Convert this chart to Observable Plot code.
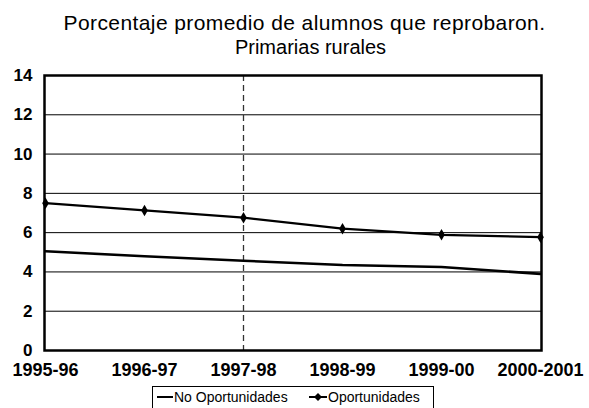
<!DOCTYPE html>
<html>
<head>
<meta charset="utf-8">
<script src="https://cdn.jsdelivr.net/npm/d3@7"></script>
<script src="https://cdn.jsdelivr.net/npm/@observablehq/plot@0.6"></script>
<style>
  html, body { margin: 0; padding: 0; background: #fff; }
  body { width: 589px; height: 408px; position: relative; overflow: hidden; font-family: "Liberation Sans", Arial, sans-serif; color: #000; }
  #t1 { position: absolute; top: 10px; left: 20px; width: 569px; text-align: center; font-size: 21px; line-height: 25px; letter-spacing: 0.4px; white-space: nowrap; }
  #t2 { position: absolute; top: 35px; left: 32px; width: 557px; text-align: center; font-size: 20px; line-height: 25px; white-space: nowrap; }
  #chart { position: absolute; top: 60px; left: 0; }
  #legend { position: absolute; left: 152px; top: 386px; width: 282px; height: 26px; border: 1px solid #000; box-sizing: border-box; font-size: 14px; }
  .item { position: absolute; top: 2px; display: flex; align-items: center; white-space: nowrap; }
  .item svg { display: block; }
</style>
</head>
<body>
<div id="t1">Porcentaje promedio de alumnos que reprobaron.</div>
<div id="t2">Primarias rurales</div>
<div id="chart"></div>
<div id="legend">
  <div class="item" style="left:3px"><svg width="18" height="16"><line x1="1" x2="17" y1="8" y2="8" stroke="#000" stroke-width="2"/></svg><span>No Oportunidades</span></div>
  <div class="item" style="left:155px"><svg width="20" height="16"><line x1="1" x2="19" y1="8" y2="8" stroke="#000" stroke-width="2"/><path d="M10,4 L14,8 L10,12 L6,8 Z" fill="#000"/></svg><span>Oportunidades</span></div>
</div>
<script>
const categories = ["1995-96", "1996-97", "1997-98", "1998-99", "1999-00", "2000-2001"];
const noOportunidades = [5.05, 4.8, 4.57, 4.35, 4.25, 3.9];
const oportunidades = [7.5, 7.13, 6.76, 6.2, 5.89, 5.77];
const yTicks = [0, 2, 4, 6, 8, 10, 12, 14];
const gridValues = [2, 4, 6, 8, 10, 12];
const dashedCategory = ["1997-98"];

const noData = categories.map((c, i) => ({ periodo: c, valor: noOportunidades[i] }));
const siData = categories.map((c, i) => ({ periodo: c, valor: oportunidades[i] }));

const chart = Plot.plot({
  width: 589,
  height: 325,
  marginTop: 15,
  marginBottom: 35,
  marginLeft: 44,
  marginRight: 48,
  style: { fontFamily: "'Liberation Sans', Arial, sans-serif", fontSize: "18px", color: "#000", background: "#fff" },
  x: { type: "point", domain: categories, padding: 0, label: null },
  y: { domain: [0, 14], label: null },
  marks: [
    Plot.ruleY(gridValues, { stroke: "#000", strokeWidth: 1 }),
    Plot.ruleX(dashedCategory, { stroke: "#333", strokeWidth: 1.3, strokeDasharray: "6,4" }),
    Plot.line(noData, { x: "periodo", y: "valor", stroke: "#000", strokeWidth: 2.6 }),
    Plot.line(siData, { x: "periodo", y: "valor", stroke: "#000", strokeWidth: 2.2 }),
    Plot.dot(siData, { x: "periodo", y: "valor", symbol: "diamond", fill: "#000", r: 3.5 }),
    Plot.frame({ stroke: "#000", strokeWidth: 2.5 }),
    Plot.axisY(yTicks, { tickSize: 0, tickPadding: 12, fontSize: 17, fontWeight: "bold", label: null }),
    Plot.axisX({ tickSize: 0, tickPadding: 13, fontSize: 18, fontWeight: "bold", label: null })
  ]
});
document.getElementById("chart").appendChild(chart);
</script>
</body>
</html>
